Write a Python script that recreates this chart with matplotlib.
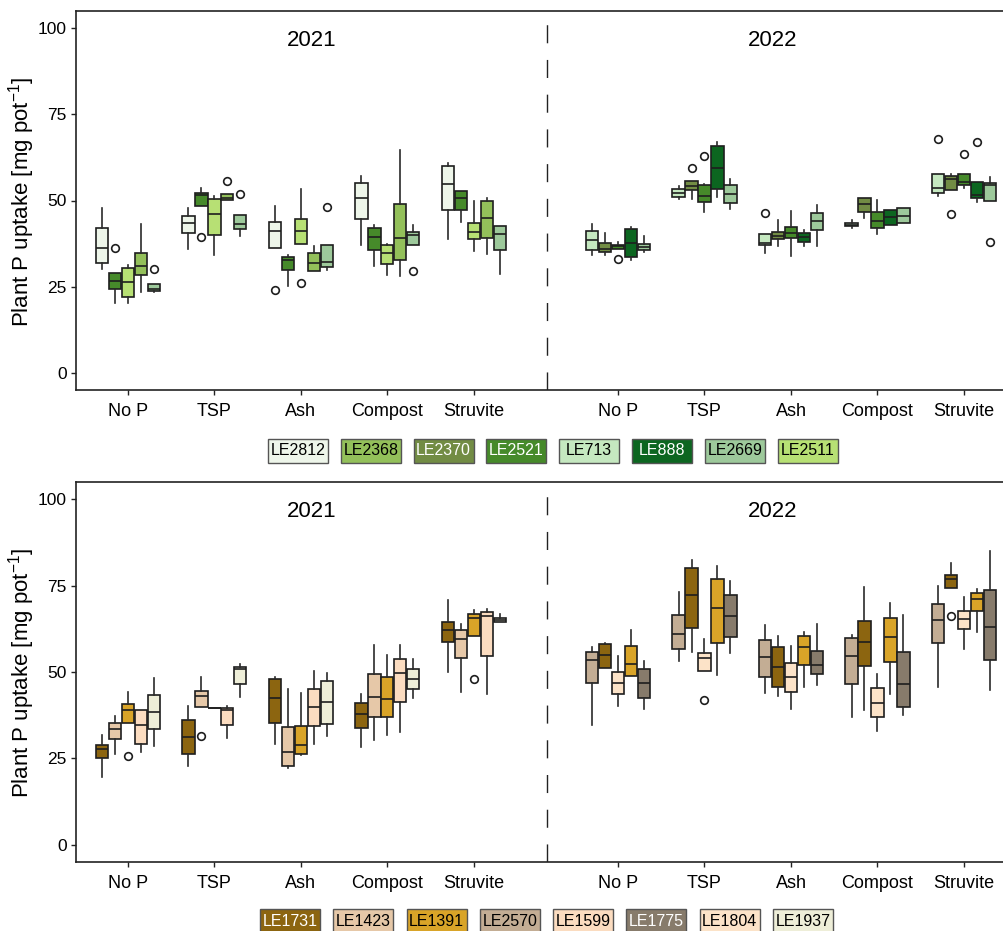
import matplotlib
matplotlib.use("Agg")
import matplotlib.pyplot as plt
from matplotlib.patches import Rectangle
from matplotlib.transforms import blended_transform_factory

plt.rcParams['font.family'] = ['Liberation Sans', 'DejaVu Sans']
plt.rcParams['mathtext.fontset'] = 'custom'
plt.rcParams['mathtext.rm'] = 'Liberation Sans'
plt.rcParams['mathtext.it'] = 'Liberation Sans'

treatments = ["No P", "TSP", "Ash", "Compost", "Struvite"]
years = ["2021", "2022"]

# genotype order inside each treatment group
top_geno_2021 = ["LE2812", "LE2521", "LE2511", "LE2368", "LE2669"]
top_geno_2022 = ["LE713", "LE2370", "LE2521", "LE888", "LE2669"]
bot_geno_2021 = ["LE1731", "LE1423", "LE1391", "LE1599", "LE1937"]
bot_geno_2022 = ["LE2570", "LE1731", "LE1804", "LE1391", "LE1775"]

top_legend = ["LE2812", "LE2368", "LE2370", "LE2521", "LE713", "LE888", "LE2669", "LE2511"]
bot_legend = ["LE1731", "LE1423", "LE1391", "LE2570", "LE1599", "LE1775", "LE1804", "LE1937"]

colors = {
    "LE2812": "#eef6ea", "LE2368": "#93c05a", "LE2370": "#728c44", "LE2521": "#468a2a",
    "LE713": "#c5e8c0", "LE888": "#0c6620", "LE2669": "#9dc99b", "LE2511": "#b7e074",
    "LE1731": "#8c6510", "LE1423": "#e6c8a8", "LE1391": "#d9a428", "LE2570": "#c3ad94",
    "LE1599": "#fbdcc0", "LE1775": "#877b6b", "LE1804": "#fce3c8", "LE1937": "#eeeed8",
}
white_text = {"LE2370", "LE2521", "LE888", "LE1731", "LE1775"}

# (whisker low, q1, median, q3, whisker high); 5 treatments x 5 genotypes
top_2021 = [
    (30.1, 31.8, 36.2, 42.0, 47.8), (20.3, 24.3, 26.7, 29.0, 29.0), (20.3, 21.9, 26.3, 30.3, 31.3),
    (23.4, 28.5, 31.1, 34.7, 43.2), (23.3, 23.7, 24.3, 25.7, 25.7),
    (35.9, 40.6, 43.6, 45.6, 47.8), (48.3, 48.3, 51.5, 52.3, 53.7), (34.3, 40.0, 46.1, 50.4, 51.2),
    (50.2, 50.2, 50.7, 51.9, 51.9), (39.8, 41.8, 43.2, 45.8, 45.8),
    (36.1, 36.1, 41.2, 43.7, 48.4), (25.2, 29.8, 32.8, 33.6, 34.3), (37.3, 37.3, 41.2, 44.5, 53.4),
    (29.5, 29.5, 32.0, 34.7, 36.9), (29.7, 30.6, 32.2, 37.0, 37.0),
    (37.1, 44.6, 50.7, 55.1, 57.2), (30.9, 35.6, 39.5, 42.1, 42.8), (28.5, 31.6, 34.8, 37.0, 37.4),
    (28.2, 32.7, 39.1, 49.0, 64.7), (37.1, 37.1, 40.0, 40.9, 42.8),
    (38.9, 47.1, 54.8, 60.0, 60.9), (43.7, 47.3, 50.6, 52.8, 52.9), (35.3, 38.8, 40.9, 43.4, 50.0),
    (34.5, 39.0, 45.0, 49.8, 50.7), (28.7, 35.7, 40.3, 42.6, 42.6),
]
top_2021_out = [
    [], [36.1], [], [], [30.1],
    [], [39.3], [], [55.7], [51.8],
    [23.9], [], [26.2], [], [48.0],
    [], [], [], [], [29.5],
    [], [], [], [], [],
]
top_2022 = [
    (34.2, 35.6, 38.4, 41.2, 43.2), (34.3, 35.0, 35.9, 37.7, 40.5), (35.8, 35.8, 36.7, 37.2, 37.9),
    (32.8, 33.7, 37.6, 41.8, 42.4), (35.0, 35.5, 36.6, 37.4, 39.6),
    (50.3, 51.1, 52.3, 53.3, 54.3), (50.4, 53.1, 54.3, 55.7, 55.7), (46.8, 49.6, 51.4, 54.6, 54.8),
    (51.0, 53.2, 59.5, 65.8, 67.0), (47.6, 49.3, 52.0, 54.4, 56.2),
    (34.9, 37.1, 37.8, 40.2, 40.2), (36.7, 38.7, 39.8, 41.0, 44.2), (34.0, 39.1, 40.6, 42.4, 47.0),
    (36.7, 37.9, 39.4, 40.7, 41.3), (36.7, 41.3, 44.1, 46.3, 48.7),
    (42.0, 42.6, 43.0, 43.4, 44.2), (45.0, 46.6, 48.9, 50.8, 50.8), (40.3, 41.9, 44.1, 46.6, 50.2),
    (43.0, 43.0, 45.2, 47.1, 47.1), (43.5, 43.5, 45.6, 47.7, 47.7),
    (51.3, 52.2, 53.6, 57.8, 57.8), (53.1, 53.1, 56.1, 57.0, 57.6), (53.7, 54.5, 55.3, 57.8, 57.8),
    (49.5, 50.7, 51.5, 55.3, 55.3), (50.0, 50.0, 54.5, 55.1, 56.9),
]
top_2022_out = [
    [], [], [33.1], [], [],
    [], [59.5], [62.8], [], [],
    [46.5], [], [], [], [],
    [], [], [], [], [],
    [67.9], [46.1], [63.6], [66.9], [37.9],
]
bot_2021 = [
    (19.7, 25.0, 27.6, 29.0, 31.9), (26.2, 30.7, 33.4, 35.1, 37.4), (35.3, 35.3, 39.0, 40.7, 44.3),
    (26.7, 29.1, 34.6, 39.1, 39.1), (28.6, 33.5, 38.4, 43.3, 48.2),
    (22.9, 26.3, 31.1, 36.1, 40.3), (39.9, 39.9, 43.1, 44.5, 48.5), (39.5, 39.5, 39.5, 39.5, 39.5),
    (30.8, 34.8, 39.0, 39.6, 40.2), (42.9, 46.4, 51.0, 51.4, 52.2),
    (29.3, 35.1, 42.4, 47.9, 48.6), (22.1, 22.8, 26.8, 34.0, 45.1), (25.9, 26.4, 29.0, 34.5, 43.8),
    (29.3, 34.4, 40.0, 45.0, 50.3), (31.5, 35.0, 41.3, 47.5, 49.8),
    (28.4, 33.7, 37.9, 40.9, 43.5), (30.3, 37.0, 42.9, 49.4, 57.7), (31.7, 37.1, 42.2, 48.6, 54.8),
    (32.7, 41.2, 49.8, 53.9, 57.7), (42.4, 45.1, 48.0, 50.9, 53.8),
    (50.0, 58.6, 62.1, 64.6, 70.7), (44.3, 54.0, 59.5, 62.2, 63.9), (60.4, 60.4, 65.7, 66.9, 67.9),
    (43.5, 54.7, 66.3, 67.4, 68.1), (64.5, 64.5, 65.1, 65.7, 66.8),
]
bot_2021_out = [
    [], [], [25.7], [], [],
    [], [31.5], [], [], [],
    [], [], [], [], [],
    [], [], [], [], [],
    [], [], [47.9], [], [],
]
bot_2022 = [
    (34.6, 46.9, 53.4, 55.9, 57.1), (51.1, 51.1, 54.8, 58.2, 58.3), (40.1, 43.5, 46.7, 50.0, 54.5),
    (48.7, 48.7, 52.4, 57.4, 62.2), (39.3, 42.6, 46.7, 50.8, 53.3),
    (53.2, 56.6, 60.9, 66.5, 73.1), (55.7, 62.7, 72.3, 80.0, 82.3), (50.4, 50.4, 54.0, 55.4, 59.5),
    (49.0, 58.3, 68.5, 76.9, 80.7), (55.5, 60.0, 66.2, 72.2, 76.2),
    (43.9, 48.6, 54.2, 59.3, 63.7), (43.0, 45.6, 51.4, 57.3, 60.4), (39.2, 44.1, 48.6, 52.5, 57.6),
    (45.8, 51.9, 57.1, 60.4, 61.7), (46.2, 49.3, 51.9, 56.0, 63.9),
    (37.1, 46.4, 54.5, 59.8, 60.7), (39.0, 51.6, 58.8, 64.9, 74.5), (32.9, 37.1, 41.1, 45.3, 49.3),
    (43.5, 53.0, 60.0, 65.6, 70.1), (37.5, 40.0, 46.5, 55.9, 66.4),
    (45.7, 58.3, 65.1, 69.6, 75.0), (74.2, 74.2, 76.9, 78.1, 81.5), (56.6, 62.4, 65.3, 67.7, 71.6),
    (61.7, 67.8, 71.2, 72.8, 74.0), (44.8, 53.5, 63.1, 73.7, 85.1),
]
bot_2022_out = [
    [], [], [], [], [],
    [], [], [41.8], [], [],
    [], [], [], [], [],
    [], [], [], [], [],
    [], [66.2], [], [], [],
]

yticks = [0, 25, 50, 75, 100]
YEAR2_OFFSET = 5.667
DODGE = 0.15
BOXW = 0.142
DIVIDER = 4.85
XLIM = (-0.6, 10.13)

W, H = 1004, 931
fig = plt.figure(figsize=(W / 100, H / 100), dpi=100)


def px_axes(l, t, r, b):
    return fig.add_axes([l / W, 1 - b / H, (r - l) / W, (b - t) / H])


def draw_panel(ax, stats21, out21, geno21, stats22, out22, geno22):
    for stats, outs, geno, off in ((stats21, out21, geno21, 0.0),
                                   (stats22, out22, geno22, YEAR2_OFFSET)):
        bstats, pos, cols = [], [], []
        for g in range(len(treatments)):
            for j in range(len(geno)):
                k = g * len(geno) + j
                lo, q1, med, q3, hi = stats[k]
                bstats.append(dict(whislo=lo, q1=q1, med=med, q3=q3, whishi=hi,
                                   fliers=outs[k]))
                pos.append(off + g + (j - 2) * DODGE)
                cols.append(colors[geno[j]])
        res = ax.bxp(bstats, positions=pos, widths=BOXW, patch_artist=True,
                     showcaps=False, manage_ticks=False,
                     boxprops=dict(edgecolor="#1e1e1e", linewidth=1.2),
                     medianprops=dict(color="#1e1e1e", linewidth=1.2),
                     whiskerprops=dict(color="#2a2a2a", linewidth=1.2),
                     flierprops=dict(marker="o", markersize=5.5, markerfacecolor="none",
                                     markeredgecolor="#1e1e1e", markeredgewidth=1.2))
        for patch, c in zip(res["boxes"], cols):
            patch.set_facecolor(c)
    ax.axvline(DIVIDER, color="#222222", linewidth=1.0, linestyle=(0, (13, 12)))
    ax.set_xlim(*XLIM)
    ax.set_ylim(-5, 105)
    ax.set_yticks(yticks)
    ax.set_yticklabels([str(v) for v in yticks], fontsize=12.5)
    xt = [g for g in range(5)] + [YEAR2_OFFSET + g for g in range(5)]
    ax.set_xticks(xt)
    ax.set_xticklabels(treatments + treatments, fontsize=13)
    ax.tick_params(axis="both", direction="out", length=3.5, width=1.0, colors="#222222",
                   labelcolor="black", pad=3)
    ax.tick_params(axis="x", pad=6)
    for s in ax.spines.values():
        s.set_color("#222222")
        s.set_linewidth(1.2)
    ax.spines["right"].set_visible(False)
    tr = blended_transform_factory(ax.transData, ax.transAxes)
    ax.text((XLIM[0] + DIVIDER) / 2, 0.923, years[0], transform=tr, ha="center",
            va="center", fontsize=16)
    ax.text((DIVIDER + XLIM[1]) / 2 - 0.03, 0.923, years[1], transform=tr, ha="center",
            va="center", fontsize=16)


def draw_legend(names, x0, pitch, top, height=24, width=60):
    for k, n in enumerate(names):
        xl = x0 + k * pitch
        fig.patches.append(Rectangle((xl / W, 1 - (top + height) / H), width / W, height / H,
                                     transform=fig.transFigure, facecolor=colors[n],
                                     edgecolor="#555555", linewidth=1.0))
        fig.text((xl + width / 2) / W, 1 - (top + height / 2) / H, n, ha="center",
                 va="center", fontsize=11.5,
                 color="white" if n in white_text else "black")


ax1 = px_axes(76, 11, 1004, 390)
draw_panel(ax1, top_2021, top_2021_out, top_geno_2021, top_2022, top_2022_out, top_geno_2022)
ax2 = px_axes(76, 482, 1004, 862)
draw_panel(ax2, bot_2021, bot_2021_out, bot_geno_2021, bot_2022, bot_2022_out, bot_geno_2022)

ylabel = r"Plant P uptake [mg pot$^{-1}$]"
fig.text(22 / W, 1 - 202 / H, ylabel, rotation=90, ha="center", va="center", fontsize=16)
fig.text(22 / W, 1 - 673 / H, ylabel, rotation=90, ha="center", va="center", fontsize=16)

draw_legend(top_legend, 268, 72.8, 439)
draw_legend(bot_legend, 260, 73.3, 909)

fig.savefig("out.png", dpi=100)
